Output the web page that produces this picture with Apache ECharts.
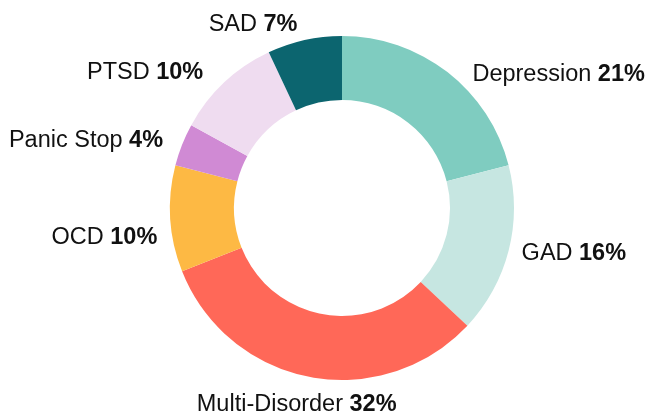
<!DOCTYPE html>
<html>
<head>
<meta charset="utf-8">
<script src="https://cdn.jsdelivr.net/npm/echarts@6/dist/echarts.min.js"></script>
<style>
html,body{margin:0;padding:0;background:#fff;}
#chart{width:649px;height:416px;}
</style>
</head>
<body>
<div id="chart"></div>
<script>
// ---- data ----
const categories = ['Depression', 'GAD', 'Multi-Disorder', 'OCD', 'Panic Stop', 'PTSD', 'SAD'];
const shares = [21, 16, 32, 10, 4, 10, 7];
const colors = ['#7fccc0', '#c6e6e1', '#ff6858', '#fdb944', '#d08ad4', '#efdcf0', '#0c656f'];

// ---- layout (not data) ----
const CX = 342, CY = 208, R_OUT = 172, R_IN = 108;
// label alignment and nudges relative to the slice's mid-angle point on the outer edge
const labelAlign = ['left', 'left', 'left', 'right', 'right', 'right', 'right'];
const labelShift = [[25, 2], [13, 3], [-113, 28], [-13, 19], [-19, -4], [-21, -10], [-7, -16]];

const total = shares.reduce((a, b) => a + b, 0);
const midAngles = [];
let acc = 0;
shares.forEach(v => {
  const start = 90 - acc / total * 360;
  acc += v;
  const end = 90 - acc / total * 360;
  midAngles.push((start + end) / 2 * Math.PI / 180);
});

const FS = 23.5;
const chart = echarts.init(document.getElementById('chart'), null, { renderer: 'canvas' });
chart.setOption({
  animation: false,
  backgroundColor: '#ffffff',
  series: [{
    type: 'pie',
    center: [CX, CY],
    radius: [R_IN, R_OUT],
    startAngle: 90,
    clockwise: true,
    avoidLabelOverlap: false,
    color: colors,
    itemStyle: { borderWidth: 0 },
    label: {
      show: true,
      position: 'outside',
      formatter: p => '{n|' + p.name + '} {v|' + p.value + '%}',
      rich: {
        n: { fontFamily: 'Liberation Sans', fontSize: FS, color: '#111111', fontWeight: 'normal' },
        v: { fontFamily: 'Liberation Sans', fontSize: FS, color: '#111111', fontWeight: 'bold' }
      },
      fontFamily: 'Liberation Sans',
      fontSize: FS
    },
    labelLine: { show: false },
    labelLayout: function (params) {
      const i = params.dataIndex;
      const a = midAngles[i];
      const px = CX + R_OUT * Math.cos(a);
      const py = CY - R_OUT * Math.sin(a);
      return {
        x: px + labelShift[i][0],
        y: py + labelShift[i][1],
        align: labelAlign[i],
        verticalAlign: 'middle'
      };
    },
    emphasis: { disabled: true },
    data: categories.map((c, i) => ({ name: c, value: shares[i] }))
  }]
});
</script>
</body>
</html>
